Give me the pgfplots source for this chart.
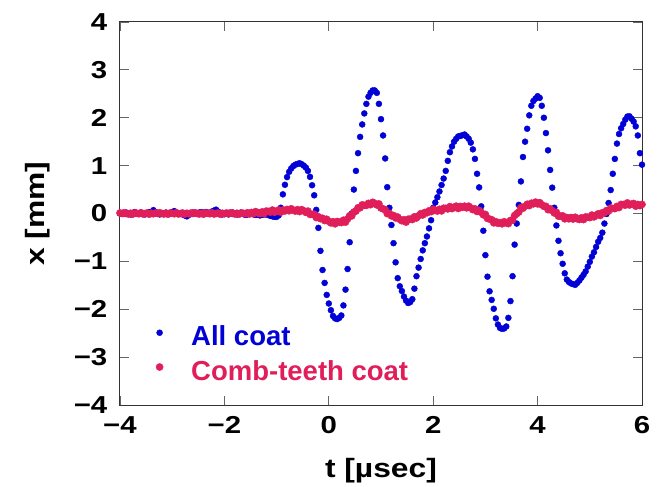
\documentclass[border=0pt]{standalone}
\usepackage{fontspec}
\setmainfont{Liberation Sans}[FakeStretch=1.2]
\newfontfamily\legfont{Liberation Sans}
\usepackage{pgfplots}
\pgfplotsset{compat=1.18}
\definecolor{allblue}{RGB}{0,0,215}
\definecolor{combpink}{RGB}{224,30,90}
\begin{document}
\begin{tikzpicture}
\useasboundingbox (-120bp,-82bp) rectangle (544bp,405bp);
\begin{axis}[
  at={(0,0)}, anchor=south west,
  width=522bp, height=383bp, scale only axis,
  xmin=-4, xmax=6, ymin=-4, ymax=4,
  clip=false,
  xtick={-4,-2,0,2,4,6},
  ytick={-4,-3,-2,-1,0,1,2,3,4},
  xticklabels={−4,−2,0,2,4,6},
  yticklabels={−4,−3,−2,−1,0,1,2,3,4},
  tick align=inside,
  major tick length=9bp,
  tick style={draw=black!60, line width=0.8bp},
  axis line style={draw=black!80, line width=1bp},
  xticklabel style={font=\fontsize{24.5bp}{28bp}\selectfont\bfseries, inner sep=0pt, anchor=north, yshift=-11bp},
  yticklabel style={font=\fontsize{24.5bp}{28bp}\selectfont\bfseries, inner sep=0pt, anchor=east, xshift=-12.5bp},
  xlabel={t [µsec]},
  ylabel={x [mm]},
  xlabel style={font=\fontsize{26.5bp}{30bp}\selectfont\bfseries, inner sep=0pt, at={(axis description cs:0.5,-0.188)}, anchor=base},
  ylabel style={font=\fontsize{26.5bp}{30bp}\selectfont\bfseries, inner sep=0pt, at={(axis description cs:-0.1437,0.5)}, anchor=base},
  legend cell align=left,
  legend image code/.code={\draw[#1] plot coordinates {(0bp,3bp)};},
  legend style={draw=none, fill=none, inner sep=0pt, outer sep=0pt,
    at={(axis description cs:0.069,0.207)}, anchor=north west,
    row sep=14.3bp, column sep=28bp,
    nodes={inner sep=0pt, text height=20bp, text depth=0bp, font=\legfont\fontsize{27.5bp}{31bp}\selectfont\bfseries}},
]
\addplot[only marks, mark=*, color=allblue, mark size=3bp] table {
t y
-4.00 0.00
-3.96 0.01
-3.92 -0.01
-3.88 0.02
-3.84 0.00
-3.80 -0.02
-3.76 0.01
-3.72 0.03
-3.68 0.00
-3.64 -0.01
-3.60 0.02
-3.56 0.01
-3.52 -0.02
-3.48 0.00
-3.44 0.03
-3.40 0.02
-3.36 0.07
-3.32 0.03
-3.28 0.00
-3.24 -0.02
-3.20 0.01
-3.16 0.00
-3.12 0.02
-3.08 -0.01
-3.04 0.01
-3.00 0.03
-2.96 0.05
-2.92 0.02
-2.88 -0.01
-2.84 0.00
-2.80 -0.02
-2.76 -0.04
-2.72 -0.06
-2.68 -0.03
-2.64 0.00
-2.60 0.02
-2.56 0.01
-2.52 -0.01
-2.48 0.02
-2.44 0.03
-2.40 0.01
-2.36 0.03
-2.32 0.02
-2.28 0.00
-2.24 0.04
-2.20 0.06
-2.16 0.08
-2.12 0.04
-2.08 0.01
-2.04 -0.02
-2.00 -0.01
-1.96 0.01
-1.92 -0.02
-1.88 0.00
-1.84 0.02
-1.80 -0.01
-1.76 -0.02
-1.72 0.01
-1.68 0.02
-1.64 0.00
-1.60 -0.03
-1.56 -0.02
-1.52 0.01
-1.48 -0.01
-1.44 -0.02
-1.40 -0.03
-1.36 -0.02
-1.32 -0.04
-1.28 -0.03
-1.24 -0.02
-1.20 -0.02
-1.16 -0.03
-1.12 -0.05
-1.08 -0.06
-1.04 -0.07
-1.00 -0.07
-0.96 -0.04
-0.92 0.12
-0.88 0.40
-0.84 0.60
-0.80 0.76
-0.76 0.87
-0.72 0.94
-0.68 0.99
-0.64 1.02
-0.60 1.035
-0.56 1.05
-0.52 1.03
-0.48 1.00
-0.44 0.96
-0.40 0.89
-0.36 0.765
-0.32 0.59
-0.28 0.38
-0.24 0.076
-0.20 -0.30
-0.16 -0.78
-0.12 -1.18
-0.08 -1.45
-0.04 -1.70
0.00 -1.88
0.04 -2.02
0.08 -2.14
0.12 -2.19
0.16 -2.205
0.20 -2.18
0.24 -2.13
0.28 -1.92
0.32 -1.59
0.36 -1.16
0.40 -0.60
0.44 0.00
0.48 0.50
0.52 0.89
0.56 1.26
0.60 1.60
0.64 1.86
0.68 2.09
0.72 2.29
0.76 2.44
0.80 2.52
0.84 2.57
0.88 2.57
0.92 2.52
0.96 2.29
1.00 1.97
1.04 1.63
1.08 1.15
1.12 0.55
1.16 0.12
1.20 -0.24
1.24 -0.62
1.28 -1.02
1.32 -1.35
1.36 -1.52
1.40 -1.62
1.44 -1.735
1.48 -1.82
1.52 -1.87
1.56 -1.85
1.60 -1.79
1.64 -1.57
1.68 -1.31
1.72 -1.13
1.76 -0.95
1.80 -0.77
1.84 -0.62
1.88 -0.48
1.92 -0.31
1.96 -0.14
2.00 0.12
2.04 0.23
2.08 0.34
2.12 0.46
2.16 0.595
2.20 0.73
2.24 0.89
2.28 1.10
2.32 1.28
2.36 1.40
2.40 1.50
2.44 1.56
2.48 1.61
2.52 1.62
2.56 1.635
2.60 1.65
2.64 1.61
2.68 1.56
2.72 1.48
2.76 1.34
2.80 1.14
2.84 0.83
2.88 0.545
2.92 0.15
2.96 -0.36
3.00 -0.87
3.04 -1.32
3.08 -1.625
3.12 -1.805
3.16 -1.99
3.20 -2.19
3.24 -2.32
3.28 -2.39
3.32 -2.41
3.36 -2.40
3.40 -2.36
3.44 -2.18
3.48 -1.83
3.52 -1.31
3.56 -0.65
3.60 -0.21
3.64 0.18
3.68 0.67
3.72 1.18
3.76 1.50
3.80 1.77
3.84 2.05
3.88 2.25
3.92 2.35
3.96 2.40
4.00 2.45
4.04 2.415
4.08 2.25
4.12 2.00
4.16 1.68
4.20 1.32
4.24 0.91
4.28 0.54
4.32 0.12
4.36 -0.25
4.40 -0.57
4.44 -0.83
4.48 -1.05
4.52 -1.25
4.56 -1.38
4.60 -1.43
4.64 -1.46
4.68 -1.475
4.72 -1.49
4.76 -1.45
4.80 -1.40
4.84 -1.34
4.88 -1.28
4.92 -1.21
4.96 -1.11
5.00 -1.01
5.04 -0.90
5.08 -0.81
5.12 -0.70
5.16 -0.59
5.20 -0.51
5.24 -0.40
5.28 -0.21
5.32 -0.01
5.36 0.22
5.40 0.49
5.44 0.83
5.48 1.14
5.52 1.46
5.56 1.66
5.60 1.78
5.64 1.87
5.68 1.96
5.72 2.025
5.76 2.03
5.80 1.98
5.84 1.92
5.88 1.82
5.92 1.63
5.96 1.26
6.00 1.02
};
\addlegendentry{\textcolor{allblue}{All coat}}
\addplot[only marks, mark=*, color=combpink, mark size=3.6bp] table {
t y
-4.00 0.01
-3.96 0.00
-3.92 0.015
-3.88 0.00
-3.84 -0.01
-3.80 0.005
-3.76 -0.015
-3.72 0.01
-3.68 0.005
-3.64 -0.005
-3.60 0.015
-3.56 -0.01
-3.52 0.00
-3.48 0.01
-3.44 -0.015
-3.40 0.005
-3.36 -0.005
-3.32 0.01
-3.28 0.00
-3.24 0.015
-3.20 0.00
-3.16 -0.01
-3.12 0.005
-3.08 -0.015
-3.04 0.01
-3.00 0.005
-2.96 -0.005
-2.92 0.015
-2.88 -0.01
-2.84 0.00
-2.80 0.01
-2.76 -0.015
-2.72 0.005
-2.68 -0.005
-2.64 0.01
-2.60 0.00
-2.56 0.015
-2.52 0.00
-2.48 -0.01
-2.44 0.005
-2.40 -0.015
-2.36 0.01
-2.32 0.005
-2.28 -0.005
-2.24 0.015
-2.20 -0.01
-2.16 0.00
-2.12 0.01
-2.08 -0.015
-2.04 0.005
-2.00 -0.005
-1.96 0.01
-1.92 0.00
-1.88 0.015
-1.84 0.00
-1.80 -0.01
-1.76 0.005
-1.72 -0.015
-1.68 0.01
-1.64 0.005
-1.60 -0.005
-1.56 0.015
-1.52 -0.01
-1.48 0.022
-1.44 -0.004
-1.40 0.04
-1.36 0.014
-1.32 -0.002
-1.28 0.032
-1.24 -0.004
-1.20 0.05
-1.16 0.044
-1.12 0.028
-1.08 0.072
-1.04 0.026
-1.00 0.05
-0.96 0.074
-0.92 0.028
-0.88 0.071
-0.84 0.053
-0.80 0.085
-0.76 0.057
-0.72 0.099
-0.68 0.07
-0.64 0.05
-0.60 0.08
-0.56 0.04
-0.52 0.08
-0.48 0.057
-0.44 0.023
-0.40 0.05
-0.36 -0.019
-0.32 -0.017
-0.28 -0.016
-0.24 -0.085
-0.20 -0.067
-0.16 -0.108
-0.12 -0.099
-0.08 -0.147
-0.04 -0.12
0.00 -0.163
0.04 -0.197
0.08 -0.172
0.12 -0.215
0.16 -0.167
0.20 -0.18
0.24 -0.19
0.28 -0.14
0.32 -0.18
0.36 -0.113
0.40 -0.047
0.44 -0.05
0.48 0.03
0.52 0.05
0.56 0.12
0.60 0.12
0.64 0.18
0.68 0.17
0.72 0.17
0.76 0.212
0.80 0.184
0.84 0.234
0.88 0.212
0.92 0.179
0.96 0.201
1.00 0.114
1.04 0.097
1.08 0.08
1.12 -0.003
1.16 0.003
1.20 -0.05
1.24 -0.041
1.28 -0.093
1.32 -0.074
1.36 -0.122
1.40 -0.152
1.44 -0.131
1.48 -0.18
1.52 -0.119
1.56 -0.117
1.60 -0.126
1.64 -0.068
1.68 -0.093
1.72 -0.049
1.76 -0.004
1.80 -0.03
1.84 0.022
1.88 0.014
1.92 0.056
1.96 0.038
2.00 0.09
2.04 0.066
2.08 0.052
2.12 0.088
2.16 0.054
2.20 0.11
2.24 0.108
2.28 0.096
2.32 0.144
2.36 0.102
2.40 0.13
2.44 0.153
2.48 0.105
2.52 0.148
2.56 0.129
2.60 0.153
2.64 0.118
2.68 0.153
2.72 0.117
2.76 0.08
2.80 0.097
2.84 0.043
2.88 0.066
2.92 0.024
2.96 -0.028
3.00 -0.02
3.04 -0.103
3.08 -0.117
3.12 -0.13
3.16 -0.195
3.20 -0.17
3.24 -0.205
3.28 -0.19
3.32 -0.215
3.36 -0.171
3.40 -0.196
3.44 -0.211
3.48 -0.145
3.52 -0.139
3.56 -0.043
3.60 -0.003
3.64 0.03
3.68 0.123
3.72 0.111
3.76 0.152
3.80 0.193
3.84 0.165
3.88 0.215
3.92 0.202
3.96 0.238
4.00 0.20
4.04 0.227
4.08 0.183
4.12 0.15
4.16 0.15
4.20 0.08
4.24 0.10
4.28 0.06
4.32 0.011
4.36 0.023
4.40 -0.056
4.44 -0.056
4.48 -0.049
4.52 -0.111
4.56 -0.084
4.60 -0.111
4.64 -0.084
4.68 -0.116
4.72 -0.078
4.76 -0.11
4.80 -0.125
4.84 -0.091
4.88 -0.127
4.92 -0.073
4.96 -0.077
5.00 -0.085
5.04 -0.033
5.08 -0.071
5.12 -0.039
5.16 -0.006
5.20 -0.04
5.24 0.016
5.28 0.012
5.32 0.061
5.36 0.052
5.40 0.113
5.44 0.105
5.48 0.102
5.52 0.148
5.56 0.124
5.60 0.19
5.64 0.187
5.68 0.174
5.72 0.221
5.76 0.178
5.80 0.195
5.84 0.209
5.88 0.153
5.92 0.188
5.96 0.164
6.00 0.19
};
\addlegendentry{\textcolor{combpink}{Comb-teeth coat}}
\end{axis}
\end{tikzpicture}
\end{document}
